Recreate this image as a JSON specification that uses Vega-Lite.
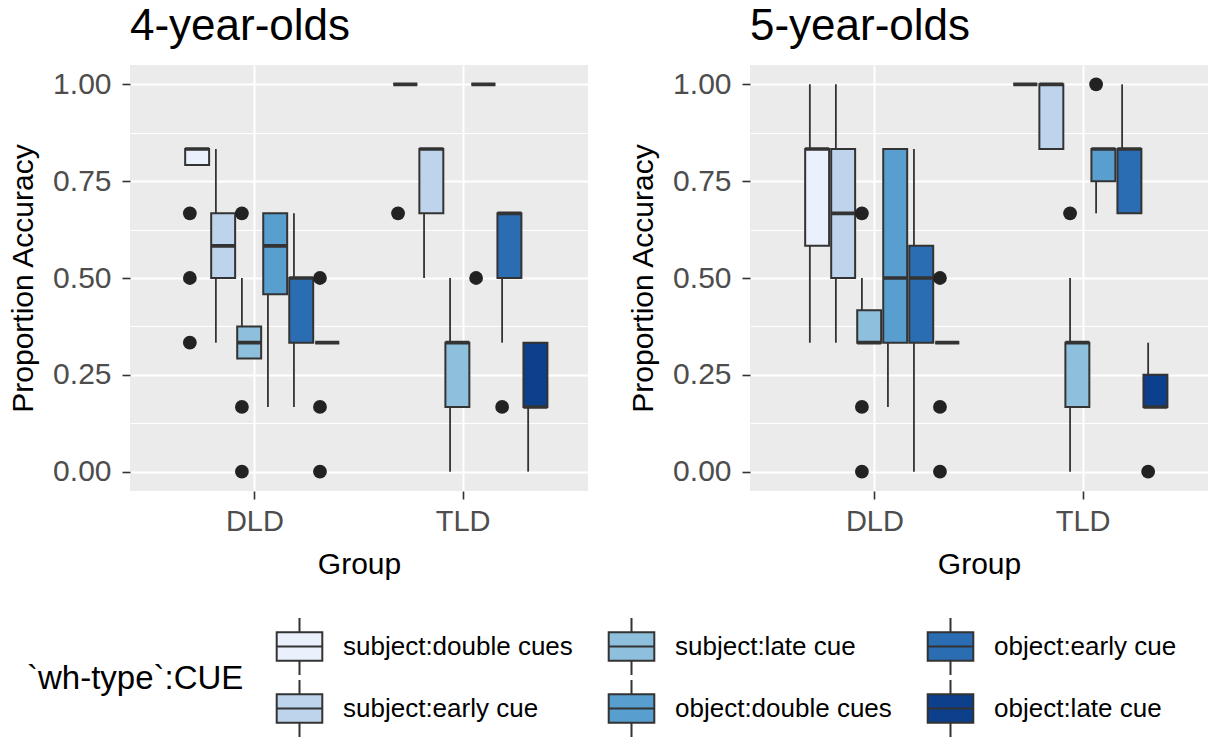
{
  "$schema": "https://vega.github.io/schema/vega-lite/v6.json",
  "background": "white",
  "padding": {"left": 8, "top": 5, "right": 0, "bottom": 0},
  "datasets": {
    "rows": [
      {"age": "4-year-olds", "Group": "DLD", "cue": "subject:double cues", "kind": "box", "lo": 0.792, "q1": 0.792, "med": 0.833, "q3": 0.833, "hi": 0.833},
      {"age": "4-year-olds", "Group": "DLD", "cue": "subject:early cue", "kind": "box", "lo": 0.333, "q1": 0.5, "med": 0.583, "q3": 0.667, "hi": 0.833},
      {"age": "4-year-olds", "Group": "DLD", "cue": "subject:late cue", "kind": "box", "lo": 0.292, "q1": 0.292, "med": 0.333, "q3": 0.375, "hi": 0.5},
      {"age": "4-year-olds", "Group": "DLD", "cue": "object:double cues", "kind": "box", "lo": 0.167, "q1": 0.458, "med": 0.583, "q3": 0.667, "hi": 0.667},
      {"age": "4-year-olds", "Group": "DLD", "cue": "object:early cue", "kind": "box", "lo": 0.167, "q1": 0.333, "med": 0.5, "q3": 0.5, "hi": 0.667},
      {"age": "4-year-olds", "Group": "DLD", "cue": "object:late cue", "kind": "box", "lo": 0.333, "q1": 0.333, "med": 0.333, "q3": 0.333, "hi": 0.333},
      {"age": "4-year-olds", "Group": "TLD", "cue": "subject:double cues", "kind": "box", "lo": 1, "q1": 1, "med": 1, "q3": 1, "hi": 1},
      {"age": "4-year-olds", "Group": "TLD", "cue": "subject:early cue", "kind": "box", "lo": 0.5, "q1": 0.667, "med": 0.833, "q3": 0.833, "hi": 0.833},
      {"age": "4-year-olds", "Group": "TLD", "cue": "subject:late cue", "kind": "box", "lo": 0, "q1": 0.167, "med": 0.333, "q3": 0.333, "hi": 0.5},
      {"age": "4-year-olds", "Group": "TLD", "cue": "object:double cues", "kind": "box", "lo": 1, "q1": 1, "med": 1, "q3": 1, "hi": 1},
      {"age": "4-year-olds", "Group": "TLD", "cue": "object:early cue", "kind": "box", "lo": 0.333, "q1": 0.5, "med": 0.667, "q3": 0.667, "hi": 0.667},
      {"age": "4-year-olds", "Group": "TLD", "cue": "object:late cue", "kind": "box", "lo": 0, "q1": 0.167, "med": 0.167, "q3": 0.333, "hi": 0.333},
      {"age": "5-year-olds", "Group": "DLD", "cue": "subject:double cues", "kind": "box", "lo": 0.333, "q1": 0.583, "med": 0.833, "q3": 0.833, "hi": 1},
      {"age": "5-year-olds", "Group": "DLD", "cue": "subject:early cue", "kind": "box", "lo": 0.333, "q1": 0.5, "med": 0.667, "q3": 0.833, "hi": 1},
      {"age": "5-year-olds", "Group": "DLD", "cue": "subject:late cue", "kind": "box", "lo": 0.333, "q1": 0.333, "med": 0.333, "q3": 0.417, "hi": 0.5},
      {"age": "5-year-olds", "Group": "DLD", "cue": "object:double cues", "kind": "box", "lo": 0.167, "q1": 0.333, "med": 0.5, "q3": 0.833, "hi": 0.833},
      {"age": "5-year-olds", "Group": "DLD", "cue": "object:early cue", "kind": "box", "lo": 0, "q1": 0.333, "med": 0.5, "q3": 0.583, "hi": 0.833},
      {"age": "5-year-olds", "Group": "DLD", "cue": "object:late cue", "kind": "box", "lo": 0.333, "q1": 0.333, "med": 0.333, "q3": 0.333, "hi": 0.333},
      {"age": "5-year-olds", "Group": "TLD", "cue": "subject:double cues", "kind": "box", "lo": 1, "q1": 1, "med": 1, "q3": 1, "hi": 1},
      {"age": "5-year-olds", "Group": "TLD", "cue": "subject:early cue", "kind": "box", "lo": 0.833, "q1": 0.833, "med": 1, "q3": 1, "hi": 1},
      {"age": "5-year-olds", "Group": "TLD", "cue": "subject:late cue", "kind": "box", "lo": 0, "q1": 0.167, "med": 0.333, "q3": 0.333, "hi": 0.5},
      {"age": "5-year-olds", "Group": "TLD", "cue": "object:double cues", "kind": "box", "lo": 0.667, "q1": 0.75, "med": 0.833, "q3": 0.833, "hi": 0.833},
      {"age": "5-year-olds", "Group": "TLD", "cue": "object:early cue", "kind": "box", "lo": 0.667, "q1": 0.667, "med": 0.833, "q3": 0.833, "hi": 1},
      {"age": "5-year-olds", "Group": "TLD", "cue": "object:late cue", "kind": "box", "lo": 0.167, "q1": 0.167, "med": 0.167, "q3": 0.25, "hi": 0.333},
      {"age": "4-year-olds", "Group": "DLD", "cue": "subject:double cues", "kind": "out", "value": 0.667},
      {"age": "4-year-olds", "Group": "DLD", "cue": "subject:double cues", "kind": "out", "value": 0.5},
      {"age": "4-year-olds", "Group": "DLD", "cue": "subject:double cues", "kind": "out", "value": 0.333},
      {"age": "4-year-olds", "Group": "DLD", "cue": "subject:late cue", "kind": "out", "value": 0.667},
      {"age": "4-year-olds", "Group": "DLD", "cue": "subject:late cue", "kind": "out", "value": 0.167},
      {"age": "4-year-olds", "Group": "DLD", "cue": "subject:late cue", "kind": "out", "value": 0},
      {"age": "4-year-olds", "Group": "DLD", "cue": "object:late cue", "kind": "out", "value": 0.5},
      {"age": "4-year-olds", "Group": "DLD", "cue": "object:late cue", "kind": "out", "value": 0.167},
      {"age": "4-year-olds", "Group": "DLD", "cue": "object:late cue", "kind": "out", "value": 0},
      {"age": "4-year-olds", "Group": "TLD", "cue": "subject:double cues", "kind": "out", "value": 0.667},
      {"age": "4-year-olds", "Group": "TLD", "cue": "object:double cues", "kind": "out", "value": 0.5},
      {"age": "4-year-olds", "Group": "TLD", "cue": "object:early cue", "kind": "out", "value": 0.167},
      {"age": "5-year-olds", "Group": "DLD", "cue": "subject:late cue", "kind": "out", "value": 0.667},
      {"age": "5-year-olds", "Group": "DLD", "cue": "subject:late cue", "kind": "out", "value": 0.167},
      {"age": "5-year-olds", "Group": "DLD", "cue": "subject:late cue", "kind": "out", "value": 0},
      {"age": "5-year-olds", "Group": "DLD", "cue": "object:late cue", "kind": "out", "value": 0.5},
      {"age": "5-year-olds", "Group": "DLD", "cue": "object:late cue", "kind": "out", "value": 0.167},
      {"age": "5-year-olds", "Group": "DLD", "cue": "object:late cue", "kind": "out", "value": 0},
      {"age": "5-year-olds", "Group": "TLD", "cue": "subject:late cue", "kind": "out", "value": 0.667},
      {"age": "5-year-olds", "Group": "TLD", "cue": "object:double cues", "kind": "out", "value": 1},
      {"age": "5-year-olds", "Group": "TLD", "cue": "object:late cue", "kind": "out", "value": 0}
    ]
  },
  "spacing": 40,
  "hconcat": [
    {
      "title": {"text": "4-year-olds"},
      "width": 458,
      "height": 426,
      "data": {"name": "rows"},
      "transform": [{"filter": {"field": "age", "equal": "4-year-olds"}}],
      "encoding": {
        "x": {"field": "Group", "type": "nominal", "title": "Group",
              "scale": {"domain": ["DLD", "TLD"], "paddingInner": 0, "paddingOuter": 0.1},
              "axis": {"labelAngle": 0, "grid": true, "gridWidth": 2, "labelPadding": 8, "titlePadding": 13}},
        "xOffset": {"field": "cue", "type": "nominal",
              "scale": {"domain": ["subject:double cues", "subject:early cue", "subject:late cue", "object:double cues", "object:early cue", "object:late cue"], "paddingInner": 0, "paddingOuter": 1}}
      },
      "layer": [
        {
          "transform": [{"filter": "datum.kind == 'box'"}],
          "mark": {"type": "rule", "color": "#333333", "strokeWidth": 1.8},
          "encoding": {
            "y": {"field": "lo", "type": "quantitative", "title": "Proportion Accuracy",
                  "scale": {"domain": [-0.05, 1.05], "nice": false, "zero": false},
                  "axis": {"values": [0, 0.125, 0.25, 0.375, 0.5, 0.625, 0.75, 0.875, 1], "labelOverlap": false,
                           "labelExpr": "(datum.value * 4) % 1 == 0 ? format(datum.value, '.2f') : ''",
                           "gridWidth": {"condition": {"test": "(datum.value * 4) % 1 == 0", "value": 2}, "value": 1},
                           "tickOpacity": {"condition": {"test": "(datum.value * 4) % 1 == 0", "value": 1}, "value": 0},
                           "labelPadding": 11, "titlePadding": 14}},
            "y2": {"field": "hi"}
          }
        },
        {
          "transform": [{"filter": "datum.kind == 'box'"}],
          "mark": {"type": "bar", "stroke": "#333333", "strokeWidth": 2, "width": {"band": 0.92}},
          "encoding": {
            "y": {"field": "q1", "type": "quantitative", "title": "Proportion Accuracy", "scale": {"domain": [-0.05, 1.05], "nice": false, "zero": false}},
            "y2": {"field": "q3"},
            "fill": {"field": "cue", "type": "nominal",
                     "scale": {"domain": ["subject:double cues", "subject:early cue", "subject:late cue", "object:double cues", "object:early cue", "object:late cue"],
                               "range": ["#EAF0FC", "#BED4EC", "#8EC0DE", "#589FCF", "#2A6DB3", "#0C3F8C"]},
                     "legend": {"orient": "none", "legendX": -103, "legendY": 552, "columns": 3, "title": "`wh-type`:CUE"}}
          }
        },
        {
          "transform": [{"filter": "datum.kind == 'box'"}],
          "mark": {"type": "bar", "fill": "transparent", "stroke": "#333333", "strokeWidth": 3.6, "width": {"band": 0.92}},
          "encoding": {
            "y": {"field": "med", "type": "quantitative", "title": "Proportion Accuracy", "scale": {"domain": [-0.05, 1.05], "nice": false, "zero": false}},
            "y2": {"field": "med"}
          }
        },
        {
          "transform": [{"filter": "datum.kind == 'out'"}],
          "mark": {"type": "point", "filled": true, "color": "#222222", "opacity": 1, "size": 190},
          "encoding": {
            "y": {"field": "value", "type": "quantitative", "title": "Proportion Accuracy", "scale": {"domain": [-0.05, 1.05], "nice": false, "zero": false}}
          }
        }
      ]
    },
    {
      "title": {"text": "5-year-olds"},
      "width": 458,
      "height": 426,
      "data": {"name": "rows"},
      "transform": [{"filter": {"field": "age", "equal": "5-year-olds"}}],
      "encoding": {
        "x": {"field": "Group", "type": "nominal", "title": "Group",
              "scale": {"domain": ["DLD", "TLD"], "paddingInner": 0, "paddingOuter": 0.1},
              "axis": {"labelAngle": 0, "grid": true, "gridWidth": 2, "labelPadding": 8, "titlePadding": 13}},
        "xOffset": {"field": "cue", "type": "nominal",
              "scale": {"domain": ["subject:double cues", "subject:early cue", "subject:late cue", "object:double cues", "object:early cue", "object:late cue"], "paddingInner": 0, "paddingOuter": 1}}
      },
      "layer": [
        {
          "transform": [{"filter": "datum.kind == 'box'"}],
          "mark": {"type": "rule", "color": "#333333", "strokeWidth": 1.8},
          "encoding": {
            "y": {"field": "lo", "type": "quantitative", "title": "Proportion Accuracy",
                  "scale": {"domain": [-0.05, 1.05], "nice": false, "zero": false},
                  "axis": {"values": [0, 0.125, 0.25, 0.375, 0.5, 0.625, 0.75, 0.875, 1], "labelOverlap": false,
                           "labelExpr": "(datum.value * 4) % 1 == 0 ? format(datum.value, '.2f') : ''",
                           "gridWidth": {"condition": {"test": "(datum.value * 4) % 1 == 0", "value": 2}, "value": 1},
                           "tickOpacity": {"condition": {"test": "(datum.value * 4) % 1 == 0", "value": 1}, "value": 0},
                           "labelPadding": 11, "titlePadding": 14}},
            "y2": {"field": "hi"}
          }
        },
        {
          "transform": [{"filter": "datum.kind == 'box'"}],
          "mark": {"type": "bar", "stroke": "#333333", "strokeWidth": 2, "width": {"band": 0.92}},
          "encoding": {
            "y": {"field": "q1", "type": "quantitative", "title": "Proportion Accuracy", "scale": {"domain": [-0.05, 1.05], "nice": false, "zero": false}},
            "y2": {"field": "q3"},
            "fill": {"field": "cue", "type": "nominal",
                     "scale": {"domain": ["subject:double cues", "subject:early cue", "subject:late cue", "object:double cues", "object:early cue", "object:late cue"],
                               "range": ["#EAF0FC", "#BED4EC", "#8EC0DE", "#589FCF", "#2A6DB3", "#0C3F8C"]},
                     "legend": {"orient": "none", "legendX": -103, "legendY": 552, "columns": 3, "title": "`wh-type`:CUE"}}
          }
        },
        {
          "transform": [{"filter": "datum.kind == 'box'"}],
          "mark": {"type": "bar", "fill": "transparent", "stroke": "#333333", "strokeWidth": 3.6, "width": {"band": 0.92}},
          "encoding": {
            "y": {"field": "med", "type": "quantitative", "title": "Proportion Accuracy", "scale": {"domain": [-0.05, 1.05], "nice": false, "zero": false}},
            "y2": {"field": "med"}
          }
        },
        {
          "transform": [{"filter": "datum.kind == 'out'"}],
          "mark": {"type": "point", "filled": true, "color": "#222222", "opacity": 1, "size": 190},
          "encoding": {
            "y": {"field": "value", "type": "quantitative", "title": "Proportion Accuracy", "scale": {"domain": [-0.05, 1.05], "nice": false, "zero": false}}
          }
        }
      ]
    }
  ],
  "config": {
    "font": "Liberation Sans",
    "view": {"fill": "#EBEBEB", "stroke": null},
    "axis": {"domain": false, "tickColor": "#333333", "tickWidth": 1.6, "tickSize": 8, "labelColor": "#4D4D4D",
             "titleFontSize": 30, "titleFontWeight": "normal", "titleColor": "black", "gridColor": "white", "gridOpacity": 1},
    "axisX": {"labelFontSize": 29},
    "axisY": {"labelFontSize": 30},
    "title": {"fontSize": 44, "fontWeight": "normal", "anchor": "start", "frame": "group", "color": "black", "offset": 16},
    "legend": {"titleOrient": "left", "titleFontSize": 33, "titleFontWeight": "normal", "titleColor": "black", "titleAnchor": "middle", "titleBaseline": "middle",
               "titlePadding": 26, "titleLimit": 500, "labelFontSize": 26, "labelLimit": 500, "labelColor": "black", "labelOffset": 14, "columnPadding": 29, "rowPadding": -8,
               "symbolType": "M-0.8,-0.5H0.8V0.5H-0.8Z M-0.8,0H0.8 M0,-0.5V-1 M0,0.5V1", "symbolSize": 3249,
               "symbolStrokeColor": "#333333", "symbolStrokeWidth": 2, "symbolOpacity": 1}
  }
}
